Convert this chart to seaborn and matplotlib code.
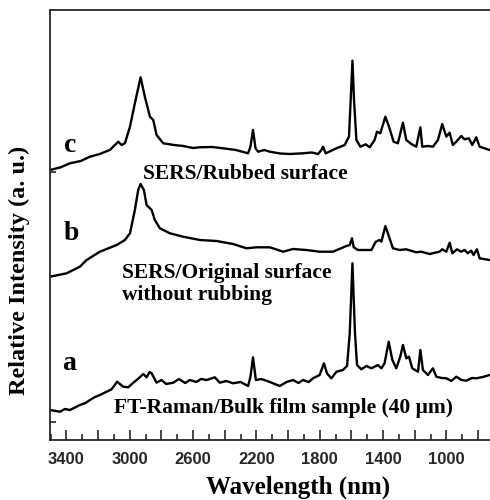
import numpy as np
import pandas as pd
import matplotlib
matplotlib.use("Agg")
import matplotlib.pyplot as plt
from matplotlib.ticker import MultipleLocator, FuncFormatter
import seaborn as sns

# ---- data (wavenumber, relative intensity a.u.) ----
c_wave = [3504, 3440, 3378, 3310, 3252, 3190, 3126, 3094, 3073, 3052, 3031, 2999, 2968, 2932, 2905, 2873, 2852, 2831,
          2789, 2720, 2663, 2600, 2558, 2480, 2411, 2330, 2253, 2238, 2222, 2206, 2190, 2150, 2116,
          2050, 1990, 1906, 1850, 1811, 1790, 1780, 1763, 1695, 1643, 1616, 1605, 1594, 1584, 1569,
          1544, 1510, 1485, 1454, 1439, 1418, 1386, 1363, 1334, 1307, 1275, 1254, 1222, 1191, 1165,
          1153, 1117, 1086, 1054, 1027, 1001, 980, 960, 938, 907, 886, 859, 837, 812, 791, 728]
c_int = [270, 272.5, 276.7, 279, 283.3, 286, 290, 295, 298.3, 295, 296.7, 313.3, 336.7, 362.7, 343.3, 323.3, 320, 305,
         296.7, 295, 294, 292, 292.7, 293, 291.7, 290, 286.7, 293.3, 310, 291.7, 288.3, 290, 288.3,
         286.5, 286, 286.7, 287.5, 286, 290, 293.3, 286.7, 291.7, 295, 303.3, 340, 379.3, 340, 300,
         293.3, 295.7, 292.7, 300, 308.3, 306.7, 323.3, 313.3, 298.3, 296.7, 317.3, 300, 296, 293.3, 312.7,
         293.3, 294, 293.3, 300, 316, 303.3, 307.3, 295, 298.3, 304, 300.7, 301.7, 295, 302.7, 293.3, 290]

b_wave = [3504, 3399, 3315, 3273, 3189, 3083, 3031, 2999, 2968, 2947, 2932, 2911, 2894, 2862, 2842,
          2810, 2747, 2663, 2558, 2452, 2348, 2263, 2200, 2116, 2032, 1969, 1885, 1801, 1717, 1632,
          1611, 1597, 1586, 1559, 1474, 1447, 1422, 1411, 1386, 1363, 1338, 1296, 1254, 1191, 1159,
          1107, 1044, 1027, 1001, 980, 963, 934, 907, 886, 865, 844, 829, 808, 791, 728]
b_int = [163.3, 166.7, 173.3, 180, 188.3, 195, 200, 206.7, 230, 250, 256, 250, 235, 230, 220,
         211.7, 206.7, 203.3, 200, 199, 196, 191.7, 192.7, 192.7, 188.3, 191, 190, 188.3, 188.3, 194,
         195, 201.7, 192.7, 190, 190, 198.3, 200, 198.3, 214, 203.3, 191.7, 190, 190.7, 187.7, 188.3,
         186, 188.3, 190.7, 188.3, 197.3, 186.7, 190.7, 188.3, 190, 186.7, 189.3, 185, 190.7, 181.7, 180]

a_wave = [3504, 3441, 3410, 3378, 3340, 3315, 3280, 3252, 3220, 3189, 3150, 3115, 3080, 3042, 3010,
          2980, 2957, 2935, 2915, 2894, 2875, 2862, 2831, 2800, 2770, 2726, 2690, 2650, 2621, 2580,
          2550, 2515, 2463, 2432, 2390, 2348, 2300, 2253, 2238, 2222, 2204, 2170, 2137, 2100, 2053,
          2010, 1969, 1935, 1906, 1870, 1843, 1801, 1774, 1755, 1727, 1695, 1654, 1628, 1611, 1594,
          1578, 1565, 1538, 1506, 1474, 1433, 1411, 1391, 1365, 1342, 1317, 1292, 1275, 1254, 1237,
          1216, 1180, 1165, 1149, 1117, 1086, 1064, 1030, 1001, 970, 938, 905, 875, 840, 812, 770, 728]
a_int = [30, 28.3, 31, 30, 33, 35, 37, 40, 43, 45, 48, 50.7, 58.3, 53.3, 52.7,
         57, 60, 63, 66, 62.7, 68, 66.7, 57.3, 60, 56, 57.3, 61, 57, 60, 58,
         61, 60, 62.7, 57.3, 59, 56.7, 58, 54, 63.3, 82.7, 60, 61, 59.3, 57, 54,
         58, 60, 57, 60, 58, 61.7, 65, 76.7, 66.7, 61.7, 68.3, 70, 74, 106.7, 176.7,
         106.7, 75, 70.7, 74, 71.7, 75, 71.7, 76.7, 98.3, 80, 71.7, 83.3, 95, 81.7, 83.3,
         71.7, 68.3, 90, 70, 65, 71.7, 63.3, 62, 61.7, 59, 63.3, 60, 59.3, 62, 61.7, 63, 65]

series_labels = ["a", "b", "c"]
series_notes = ["FT-Raman/Bulk film sample (40 \u03bcm)",
                "SERS/Original surface\nwithout rubbing",
                "SERS/Rubbed surface"]
x_tick_labels = [3400, 3000, 2600, 2200, 1800, 1400, 1000]
y_ticks = [18, 164, 268]

# ---- figure ----
sns.set_style("ticks")
plt.rcParams["font.family"] = ["Liberation Serif", "DejaVu Serif"]

W, H = 490, 500
fig = plt.figure(figsize=(W / 100, H / 100), dpi=100)
ax = fig.add_axes([50 / W, 60 / H, 444 / W, 430 / H])

frames = []
for name, wv, it in [("a", a_wave, a_int), ("b", b_wave, b_int), ("c", c_wave, c_int)]:
    frames.append(pd.DataFrame({"wave": wv, "intensity": it, "spectrum": name}))
df = pd.concat(frames, ignore_index=True)

for name in ["a", "b", "c"]:
    sub = df[df["spectrum"] == name]
    sns.lineplot(data=sub, x="wave", y="intensity", color="black", lw=1.7,
                 estimator=None, sort=True, ax=ax, legend=False)

ax.set_xlim(3504, 700)
ax.set_ylim(0, 430)

ax.xaxis.set_major_locator(MultipleLocator(200))
ax.xaxis.set_minor_locator(MultipleLocator(100))
ax.xaxis.set_major_formatter(FuncFormatter(
    lambda v, p: f"{int(round(v))}" if int(round(v)) in x_tick_labels else ""))
ax.set_yticks(y_ticks)
ax.set_yticklabels([])
ax.tick_params(axis="x", which="major", direction="in", length=7, width=1.2, pad=9)
ax.tick_params(axis="x", which="minor", direction="in", length=4, width=1.2)
ax.tick_params(axis="y", which="major", direction="in", length=4, width=1.2)
for lab in ax.get_xticklabels():
    lab.set_fontfamily(["Liberation Sans", "DejaVu Sans"])
    lab.set_fontweight("bold")
    lab.set_fontsize(12)

for side in ["left", "bottom", "top"]:
    ax.spines[side].set_linewidth(1.3)
    ax.spines[side].set_visible(True)
ax.spines["right"].set_visible(False)

ax.set_xlabel("")
ax.set_ylabel("")

bold = dict(fontweight="bold", color="black")
# series letters
for lab, (x, y) in zip(series_labels, [(69, 364), (71, 234), (70, 145)]):
    fig.text(x / W, 1 - y / H, lab, fontsize=20, ha="center", va="center", **bold)

fig.text(284 / W, 1 - 408 / H, series_notes[0], fontsize=15.5, ha="center", va="center", **bold)
fig.text(122 / W, 1 - 284 / H, series_notes[1], fontsize=15.5, ha="left", va="center",
         linespacing=1.1, **bold)
fig.text(245 / W, 1 - 174 / H, series_notes[2], fontsize=15.5, ha="center", va="center", **bold)

fig.text(298 / W, 1 - 487 / H, "Wavelength (nm)", fontsize=18, ha="center", va="center", **bold)
fig.text(19 / W, 1 - 270 / H, "Relative Intensity (a. u.)", fontsize=17.5, rotation=90,
         ha="center", va="center", **bold)

fig.savefig("out.png", dpi=100)
